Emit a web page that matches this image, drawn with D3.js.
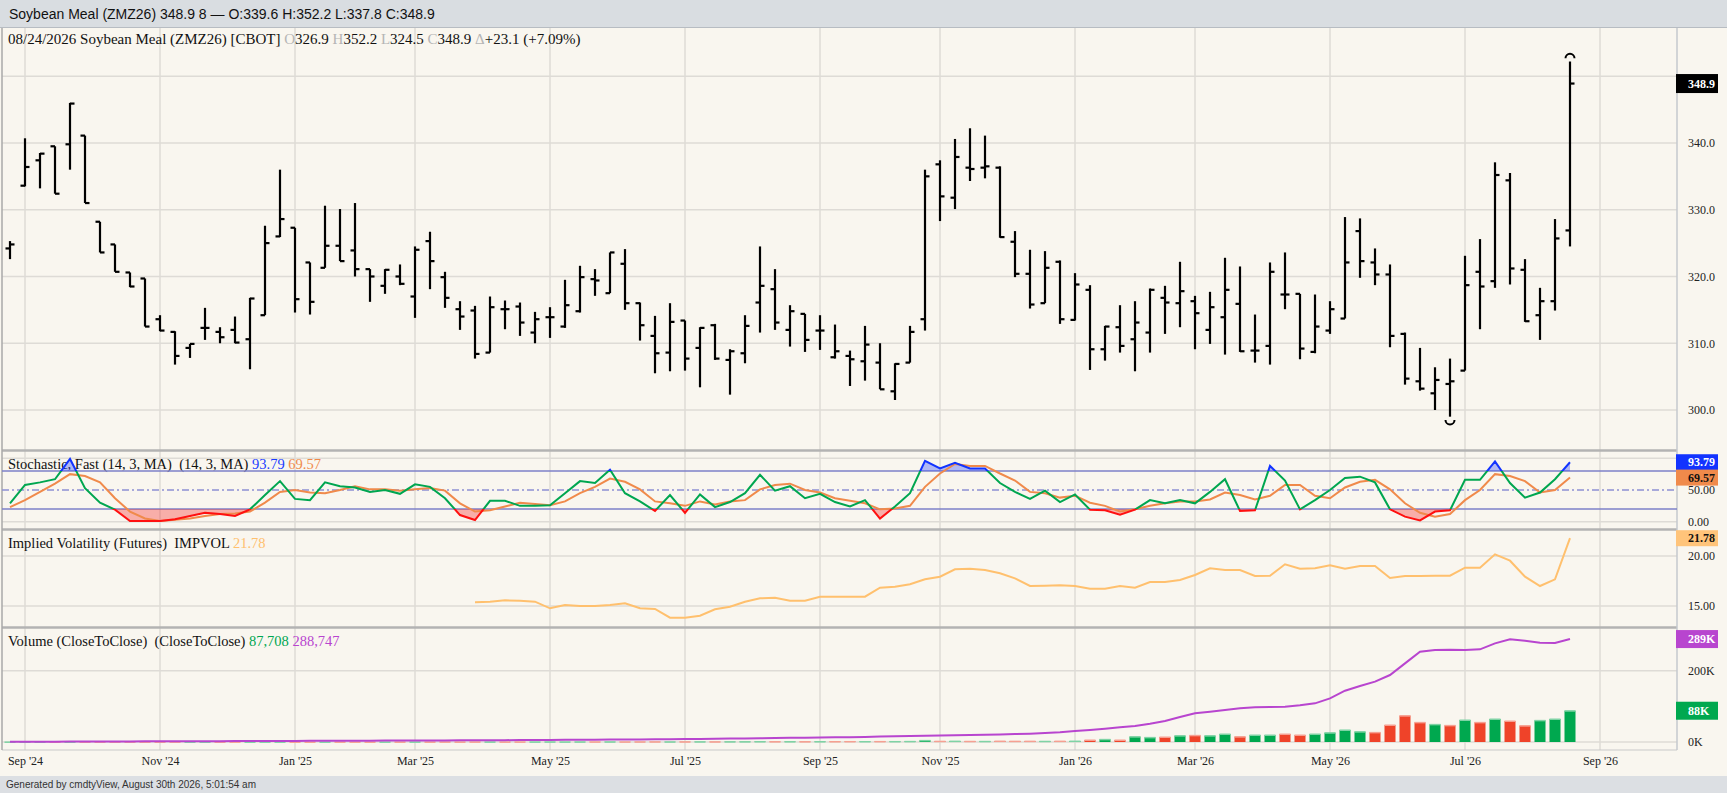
<!DOCTYPE html>
<html>
<head>
<meta charset="utf-8">
<script src="https://cdn.jsdelivr.net/npm/d3@7"></script>
<style>
  body { margin: 0; background: #f9f6ef; }
  svg { display: block; }
  text { font-family: "Liberation Serif", "Times New Roman", serif; }
</style>
</head>
<body>
<svg id="chart"></svg>
<script>
// weekly bars, first one is the week of 08/26/2024, last one 08/24/2026
var opens = [
  324.2, 333.6, 337.4, 339.5, 339.8, 341.1, 328.2, 324.8, 320.6, 319.7,
  313.6, 311.7, 309.3, 312.3, 311.7, 312.0, 310.6, 314.2, 326.0, 327.3,
  322.1, 321.3, 324.6, 323.9, 321.1, 318.6, 320.0, 317.0, 325.3, 319.9,
  315.1, 314.9, 308.6, 315.1, 315.5, 311.6, 313.9, 312.5, 314.8, 319.6,
  317.5, 321.9, 316.0, 311.1, 308.6, 313.4, 309.3, 312.7, 307.5, 308.5,
  316.1, 318.1, 312.0, 314.4, 311.9, 307.9, 308.1, 307.3, 307.1, 302.8,
  307.1, 313.6, 336.8, 331.8, 336.3, 336.3, 336.3, 325.2, 320.4, 316.0,
  322.2, 313.5, 318.0, 309.1, 312.4, 310.6, 311.6, 316.8, 316.0, 316.3,
  312.0, 313.9, 315.9, 308.9, 309.6, 317.3, 317.4, 308.7, 311.9, 313.7,
  326.8, 322.1, 320.3, 311.4, 304.3, 302.5, 303.9, 305.9, 320.7, 319.3,
  334.4, 321.0, 314.2, 316.3, 326.9
];
var highs = [
  325.3, 340.7, 338.5, 339.5, 346.0, 341.1, 328.2, 324.8, 320.6, 319.7,
  314.2, 311.8, 309.9, 315.3, 312.4, 314.0, 316.8, 327.6, 336.0, 327.3,
  322.1, 330.6, 330.1, 331.0, 321.1, 321.1, 321.8, 324.5, 326.7, 320.7,
  316.3, 315.6, 317.0, 316.4, 316.1, 314.7, 315.4, 319.5, 321.6, 321.1,
  323.6, 324.1, 316.1, 314.1, 316.0, 313.4, 312.4, 312.9, 309.1, 314.2,
  324.5, 321.1, 315.7, 314.4, 314.2, 312.8, 308.9, 312.6, 310.0, 307.0,
  312.6, 336.0, 337.4, 340.6, 342.2, 341.1, 336.5, 326.8, 324.0, 323.8,
  322.4, 320.5, 318.7, 312.6, 315.7, 316.3, 318.2, 318.6, 322.2, 317.1,
  317.7, 322.8, 321.5, 314.3, 322.1, 323.6, 317.4, 317.3, 316.3, 328.9,
  328.7, 324.2, 321.8, 311.6, 309.3, 306.4, 307.7, 323.1, 325.6, 337.1,
  335.5, 322.6, 318.3, 328.6, 352.2
];
var lows = [
  322.6, 333.5, 333.2, 332.4, 336.0, 331.0, 323.6, 320.7, 318.4, 312.5,
  311.8, 306.8, 307.8, 310.5, 310.0, 310.0, 306.1, 314.2, 325.9, 314.6,
  314.3, 321.3, 322.3, 320.0, 316.2, 317.4, 318.7, 313.8, 318.1, 315.3,
  312.0, 307.7, 308.6, 312.1, 311.1, 310.0, 310.8, 312.3, 314.6, 317.1,
  317.5, 315.0, 310.4, 305.5, 305.8, 305.9, 303.4, 307.5, 302.3, 307.0,
  311.6, 312.0, 309.5, 308.7, 309.0, 307.7, 303.6, 304.4, 303.1, 301.5,
  307.1, 311.9, 328.3, 330.1, 334.3, 334.7, 325.8, 319.9, 315.2, 316.0,
  312.9, 313.4, 306.0, 307.4, 308.6, 305.8, 308.6, 311.4, 312.4, 309.1,
  309.9, 308.3, 308.7, 307.1, 306.8, 315.1, 307.6, 308.5, 311.4, 313.7,
  319.8, 318.7, 309.4, 303.8, 302.9, 300.0, 299.0, 305.9, 312.1, 318.3,
  318.8, 313.2, 310.5, 314.9, 324.5
];
var closes = [
  324.8, 336.4, 338.4, 332.4, 345.9, 331.0, 323.6, 320.7, 318.5, 312.5,
  311.9, 308.1, 309.9, 312.3, 310.9, 310.1, 316.7, 325.0, 328.6, 316.6,
  316.2, 324.6, 322.3, 321.1, 320.0, 321.0, 318.9, 324.0, 322.3, 316.8,
  314.0, 308.4, 315.4, 315.1, 313.1, 313.6, 313.9, 315.7, 319.9, 319.4,
  323.6, 316.0, 312.7, 308.5, 313.2, 307.7, 312.3, 307.7, 308.8, 312.6,
  318.6, 313.1, 314.8, 310.5, 311.9, 308.8, 307.6, 309.8, 303.1, 306.9,
  311.7, 335.0, 332.0, 337.9, 336.1, 336.5, 325.9, 320.4, 315.8, 321.3,
  313.6, 318.8, 309.1, 312.5, 309.6, 313.1, 318.0, 316.1, 317.8, 314.5,
  315.4, 318.0, 308.8, 308.9, 320.7, 317.3, 309.2, 312.5, 315.1, 322.1,
  322.3, 320.3, 311.1, 304.7, 303.2, 304.5, 304.3, 318.7, 318.5, 335.2,
  321.2, 313.3, 316.3, 325.7, 348.9
];

// Stochastic fast %K and %D
var stochK = [
  29, 58, 62, 67, 99, 53, 30, 19, 1, 1,
  1, 4, 9, 14, 12, 9, 19.5, 42, 64, 36,
  34, 62, 56, 54, 47, 50, 44, 59, 55, 37,
  10.5, 2.6, 33, 33, 25, 25, 26, 45, 64, 61,
  82, 45, 32, 17, 42, 14, 43, 23, 31, 45,
  74, 49, 56, 37, 44, 31, 24, 34, 5, 24,
  45, 96, 84, 93, 84, 84, 61, 47, 36, 49,
  31, 43, 19, 18, 11, 19, 34, 29, 34, 29,
  47, 67, 17, 18, 88, 65, 19.5, 34, 50, 69,
  71, 62, 19.5, 8, 2, 16, 18, 66, 66, 95,
  61, 38, 46, 67, 93.79
];
var stochD = [
  23, 34, 47, 60, 75, 72, 62, 37, 16, 5,
  1, 3, 5, 9, 12, 13, 16, 30, 47, 50,
  46, 45, 50, 56, 51, 51, 49, 51, 53, 49,
  29, 16, 18, 24, 30, 28, 26, 32, 45, 55,
  68, 63, 51, 32, 29, 25, 32, 27, 32, 34,
  51, 58, 60, 50, 46, 37, 33, 29, 19.5, 21,
  25, 55, 76, 91, 88, 88, 76, 65, 47, 45,
  38, 41, 30, 25, 16, 19.5, 25, 29, 32, 32,
  35, 46, 42, 35, 41, 58, 58, 41, 37, 54,
  63, 66, 51, 29, 14, 8, 12, 34, 50, 75,
  72, 64, 46, 50, 69.57
];

// Implied volatility, starts in the spring of 2025
var impVol = [
  null, null, null, null, null, null, null, null, null, null,
  null, null, null, null, null, null, null, null, null, null,
  null, null, null, null, null, null, null, null, null, null,
  null, 15.37, 15.43, 15.57, 15.53, 15.43, 14.77, 15.1, 15.0, 15.0,
  15.1, 15.27, 14.77, 14.7, 13.83, 13.83, 14.03, 14.67, 14.93, 15.43,
  15.77, 15.83, 15.53, 15.53, 15.93, 15.93, 15.93, 15.93, 16.83, 16.93,
  17.17, 17.67, 17.93, 18.67, 18.73, 18.6, 18.27, 17.77, 17.0, 17.03,
  17.07, 17.0, 16.73, 16.73, 17.0, 16.83, 17.4, 17.4, 17.6, 18.1,
  18.77, 18.6, 18.6, 18.0, 18.03, 19.17, 18.73, 18.77, 19.07, 18.73,
  19.0, 19.0, 17.8, 18.0, 18.0, 18.03, 18.03, 18.83, 18.83, 20.17,
  19.53, 17.93, 17.0, 17.67, 21.78
];

// volume and open interest, thousands
var volumeK = [
  0.1, 0.1, 0.1, 0.2, 0.1, 0.1, 0.1, 0.1, 0.2, 0.1,
  0.1, 0.2, 0.1, 0.1, 0.1, 0.2, 0.1, 0.2, 0.2, 0.1,
  0.1, 0.2, 0.2, 0.2, 0.1, 0.2, 0.2, 0.3, 0.2, 0.3,
  0.2, 0.3, 0.3, 0.2, 0.3, 0.3, 0.4, 0.3, 0.4, 0.4,
  0.5, 0.4, 0.5, 0.6, 0.5, 0.6, 0.7, 0.6, 0.8, 0.9,
  1.2, 1.0, 1.1, 1.0, 1.2, 1.3, 1.5, 1.4, 1.6, 1.5,
  1.8, 4.5, 2.2, 2.5, 2.0, 1.9, 2.6, 2.3, 2.4, 2.1,
  2.5, 2.6, 5.6, 7.5, 5.6, 15, 13, 14, 17.8, 18.7,
  17.8, 22.4, 15, 19.6, 19.6, 22.4, 19.6, 22.4, 26, 33.7,
  29, 27, 47.7, 73.9, 55.1, 49.5, 46.7, 61.7, 55.1, 64.5,
  58.9, 45.8, 60.7, 64.5, 87.708
];
var openIntK = [
  0.5, 0.6, 0.8, 0.9, 1.1, 1.2, 1.4, 1.5, 1.6, 1.8,
  1.9, 2.0, 2.1, 2.3, 2.4, 2.5, 2.7, 2.8, 3.0, 3.1,
  3.2, 3.3, 3.5, 3.6, 3.8, 3.9, 4.0, 4.2, 4.3, 4.5,
  4.6, 4.8, 5.0, 5.2, 5.4, 5.6, 5.8, 6.0, 6.3, 6.5,
  6.8, 7.0, 7.3, 7.6, 7.9, 8.2, 8.6, 9.0, 9.5, 10.0,
  10.6, 11.2, 11.7, 12.1, 12.6, 13.1, 13.6, 14.3, 15.1, 16.0,
  16.8, 17.5, 18.0, 18.8, 19.5, 20.4, 21.3, 22.3, 23.4, 25.0,
  27.2, 30.9, 34.0, 37.5, 41.1, 44.9, 51.0, 58.9, 70.0, 80.4,
  85.0, 90.0, 94.4, 97.2, 98.0, 99.1, 103.0, 108.4, 122.4, 143.9,
  157.0, 169.2, 187.9, 220.6, 253.3, 258.0, 258.5, 258.0, 259.9, 276.7,
  287.9, 284.2, 278.5, 277.5, 288.747
];

var monthStarts = ["2024-09-01", "2024-11-01", "2025-01-01", "2025-03-01", "2025-05-01", "2025-07-01",
  "2025-09-01", "2025-11-01", "2026-01-01", "2026-03-01", "2026-05-01", "2026-07-01", "2026-09-01"];
var monthLabels = ["Sep '24", "Nov '24", "Jan '25", "Mar '25", "May '25", "Jul '25",
  "Sep '25", "Nov '25", "Jan '26", "Mar '26", "May '26", "Jul '26", "Sep '26"];

// gridlines / labelled ticks (350 and 100 sit under the last-value boxes)
var priceGrid = [300, 310, 320, 330, 340, 350];
var priceLabels = [300, 310, 320, 330, 340];
var stochGrid = [0, 100];
var stochLabels = [0, 50];
var ivTicks = [15, 20];
var volTicks = [0, 200];

var W = 1727, H = 793;
var left = 2, right = 1677;
var mainTop = 28, mainBot = 450, stTop = 452, stBot = 529, ivTop = 531, ivBot = 627, vTop = 629, vBot = 750;

var weeks = d3.timeMonday.range(new Date(2024, 7, 26), new Date(2026, 7, 25));
var parseDay = d3.timeParse("%Y-%m-%d");
// gridlines sit on the first bar whose week starts inside the month
var tickDates = monthStarts.map(function(s) {
  return d3.timeDay.offset(d3.timeSunday.ceil(parseDay(s)), 1);
});

var x = d3.scaleTime().domain([weeks[0], weeks[weeks.length - 1]]).range([10, 1570]);
var yP = d3.scaleLinear().domain([300, 350]).range([410, 76.2]);
var yS = d3.scaleLinear().domain([0, 100]).range([521.7, 458.3]);
var yI = d3.scaleLinear().domain([15, 20]).range([606, 556]);
var yV = d3.scaleLinear().domain([0, 200]).range([742, 670.7]);

var svg = d3.select("#chart").attr("width", W).attr("height", H);
svg.append("rect").attr("width", W).attr("height", H).attr("fill", "#f9f6ef");

// title bar and footer
svg.append("rect").attr("width", W).attr("height", 27).attr("fill", "#d9dde1");
svg.append("line").attr("x1", 0).attr("x2", W).attr("y1", 27.5).attr("y2", 27.5).attr("stroke", "#b7bcc2");
svg.append("text").attr("x", 9).attr("y", 19)
  .style("font-family", "'Liberation Sans', Arial, sans-serif").style("font-size", "14px")
  .attr("fill", "#111").text("Soybean Meal (ZMZ26) 348.9 8 \u2014 O:339.6 H:352.2 L:337.8 C:348.9");
svg.append("rect").attr("y", 776).attr("width", W).attr("height", 17).attr("fill", "#dcdfe3");
svg.append("text").attr("x", 6).attr("y", 788)
  .style("font-family", "'Liberation Sans', Arial, sans-serif").style("font-size", "10px")
  .attr("fill", "#333").text("Generated by cmdtyView, August 30th 2026, 5:01:54 am");

// clip paths
var defs = svg.append("defs");
function clip(id, y0, y1) {
  defs.append("clipPath").attr("id", id).append("rect")
    .attr("x", left).attr("y", y0).attr("width", right - left).attr("height", y1 - y0);
}
clip("cMain", mainTop, mainBot);
clip("cSt", stTop, stBot);
clip("cStHi", stTop, yS(80));
clip("cStMid", yS(80), yS(20));
clip("cStLo", yS(20), stBot);
clip("cIv", ivTop, ivBot);
clip("cVol", vTop, vBot);

var grid = "#dedbd6";

// vertical gridlines
svg.append("g").selectAll("line").data(tickDates).join("line")
  .attr("x1", function(d) { return x(d); }).attr("x2", function(d) { return x(d); })
  .attr("y1", mainTop).attr("y2", vBot)
  .attr("stroke", grid).attr("stroke-width", 1.5);

// horizontal gridlines
function hgrid(scale, ticks) {
  svg.append("g").selectAll("line").data(ticks).join("line")
    .attr("x1", left).attr("x2", right)
    .attr("y1", function(d) { return scale(d); }).attr("y2", function(d) { return scale(d); })
    .attr("stroke", grid).attr("stroke-width", 1.5);
}
hgrid(yP, priceGrid);
hgrid(yS, stochGrid);
hgrid(yI, ivTicks);
hgrid(yV, volTicks);

// panel separators and frame
[mainBot, stBot, ivBot].forEach(function(y) {
  svg.append("line").attr("x1", left).attr("x2", right).attr("y1", y + 0.5).attr("y2", y + 0.5)
    .attr("stroke", "#b3b3b3").attr("stroke-width", 2.5);
});
svg.append("line").attr("x1", left).attr("x2", right).attr("y1", vBot).attr("y2", vBot).attr("stroke", "#c9c9c9");
svg.append("line").attr("x1", right).attr("x2", right).attr("y1", mainTop).attr("y2", vBot).attr("stroke", "#c5c9ce").attr("stroke-width", 1.5);
svg.append("line").attr("x1", left).attr("x2", left).attr("y1", mainTop).attr("y2", vBot).attr("stroke", "#a9a9a9").attr("stroke-width", 1.5);

// legends
function legend(y, size, parts) {
  var t = svg.append("text").attr("x", 8).attr("y", y).style("font-size", size + "px").style("white-space", "pre");
  parts.forEach(function(p) { t.append("tspan").attr("fill", p[1]).text(p[0]); });
}
legend(44, 15, [["08/24/2026 Soybean Meal (ZMZ26) [CBOT] ", "#111"], ["O", "#b5b5b5"], ["326.9 ", "#111"],
  ["H", "#b5b5b5"], ["352.2 ", "#111"], ["L", "#b5b5b5"], ["324.5 ", "#111"], ["C", "#b5b5b5"],
  ["348.9 ", "#111"], ["\u0394", "#b5b5b5"], ["+23.1 (+7.09%)", "#111"]]);
legend(469, 14.5, [["Stochastic, Fast (14, 3, MA)  (14, 3, MA) ", "#111"], ["93.79", "#1a3cff"], [" ", "#111"], ["69.57", "#f08a4b"]]);
legend(548, 14.5, [["Implied Volatility (Futures)  IMPVOL ", "#111"], ["21.78", "#ffc06e"]]);
legend(646, 14.5, [["Volume (CloseToClose)  (CloseToClose) ", "#111"], ["87,708", "#00a651"], [" ", "#111"], ["288,747", "#b845cf"]]);

// price bars
var gP = svg.append("g").attr("clip-path", "url(#cMain)");
var bars = weeks.map(function(d, i) { return { date: d, o: opens[i], h: highs[i], l: lows[i], c: closes[i] }; });
var bg = gP.selectAll("g.bar").data(bars).join("g").attr("class", "bar")
  .attr("stroke", "#000").attr("stroke-width", 2.2);
bg.append("line").attr("x1", function(d) { return x(d.date); }).attr("x2", function(d) { return x(d.date); })
  .attr("y1", function(d) { return yP(d.h); }).attr("y2", function(d) { return yP(d.l); });
bg.append("line").attr("x1", function(d) { return x(d.date) - 4.5; }).attr("x2", function(d) { return x(d.date); })
  .attr("y1", function(d) { return yP(d.o); }).attr("y2", function(d) { return yP(d.o); });
bg.append("line").attr("x1", function(d) { return x(d.date); }).attr("x2", function(d) { return x(d.date) + 4.5; })
  .attr("y1", function(d) { return yP(d.c); }).attr("y2", function(d) { return yP(d.c); });

var hiI = d3.maxIndex(highs), loI = d3.minIndex(lows);
var pHi = d3.path(); pHi.arc(x(weeks[hiI]), yP(highs[hiI]) - 3.2, 4.5, Math.PI, 2 * Math.PI);
var pLo = d3.path(); pLo.arc(x(weeks[loI]), yP(lows[loI]) + 3.2, 4.5, 0, Math.PI);
gP.append("path").attr("d", pHi.toString()).attr("fill", "none").attr("stroke", "#000").attr("stroke-width", 2);
gP.append("path").attr("d", pLo.toString()).attr("fill", "none").attr("stroke", "#000").attr("stroke-width", 2);

// stochastic
var gS = svg.append("g").attr("clip-path", "url(#cSt)");
gS.append("line").attr("x1", left).attr("x2", right).attr("y1", yS(80)).attr("y2", yS(80)).attr("stroke", "#7d80c9").attr("stroke-width", 1.5);
gS.append("line").attr("x1", left).attr("x2", right).attr("y1", yS(20)).attr("y2", yS(20)).attr("stroke", "#7d80c9").attr("stroke-width", 1.5);
gS.append("line").attr("x1", left).attr("x2", right).attr("y1", yS(50)).attr("y2", yS(50)).attr("stroke", "#8d90d4")
  .attr("stroke-width", 1.5).attr("stroke-dasharray", "7,3,2,3");
var xi = function(d, i) { return x(weeks[i]); };
var areaHi = d3.area().x(xi).y0(yS(80)).y1(function(d) { return yS(d); });
var areaLo = d3.area().x(xi).y0(yS(20)).y1(function(d) { return yS(d); });
gS.append("path").attr("d", areaHi(stochK)).attr("fill", "rgba(40,70,255,0.35)").attr("clip-path", "url(#cStHi)");
gS.append("path").attr("d", areaLo(stochK)).attr("fill", "rgba(245,40,40,0.35)").attr("clip-path", "url(#cStLo)");
var lineS = d3.line().x(xi).y(function(d) { return yS(d); });
gS.append("path").attr("d", lineS(stochD)).attr("fill", "none").attr("stroke", "#f08a4b").attr("stroke-width", 2);
[["cStHi", "#1233ff"], ["cStMid", "#00a650"], ["cStLo", "#ff1010"]].forEach(function(c) {
  gS.append("path").attr("d", lineS(stochK)).attr("fill", "none").attr("stroke", c[1])
    .attr("stroke-width", 2).attr("clip-path", "url(#" + c[0] + ")");
});

// implied volatility
var gI = svg.append("g").attr("clip-path", "url(#cIv)");
var lineI = d3.line().defined(function(d) { return d != null; }).x(xi).y(function(d) { return yI(d); });
gI.append("path").attr("d", lineI(impVol)).attr("fill", "none").attr("stroke", "#ffc06e").attr("stroke-width", 2);

// volume bars coloured close to close, open interest line
var gV = svg.append("g").attr("clip-path", "url(#cVol)");
var vols = weeks.map(function(d, i) {
  return { date: d, v: volumeK[i], up: i === 0 || closes[i] >= closes[i - 1] };
});
gV.selectAll("rect.v").data(vols).join("rect").attr("class", "v")
  .attr("x", function(d) { return x(d.date) - 5.5; }).attr("width", 11)
  .attr("y", function(d) { return yV(d.v); }).attr("height", function(d) { return yV(0) - yV(d.v); })
  .attr("fill", function(d) { return d.up ? "#00a84f" : "#ef4329"; });
gV.selectAll("rect.cap").data(vols).join("rect").attr("class", "cap")
  .attr("x", function(d) { return x(d.date) - 5.5; }).attr("width", 11)
  .attr("y", function(d) { return yV(d.v) - 0.5; }).attr("height", 1.5)
  .attr("fill", function(d) { return d.up ? "#7fd3a5" : "#f6a092"; });
var lineV = d3.line().x(xi).y(function(d) { return yV(d); });
gV.append("path").attr("d", lineV(openIntK)).attr("fill", "none").attr("stroke", "#b845cf").attr("stroke-width", 2);

// right axes
function axisR(scale, ticks, fmt) {
  var g = svg.append("g").attr("transform", "translate(" + right + ",0)")
    .call(d3.axisRight(scale).tickValues(ticks).tickFormat(fmt).tickSize(0).tickPadding(11));
  g.select(".domain").remove();
  g.selectAll("text").style("font-family", "'Liberation Serif', 'Times New Roman', serif")
    .style("font-size", "12px").attr("fill", "#222");
}
axisR(yP, priceLabels, d3.format(".1f"));
axisR(yS, stochLabels, d3.format(".2f"));
axisR(yI, ivTicks, d3.format(".2f"));
axisR(yV, volTicks, function(d) { return d + "K"; });

// x axis
var gx = svg.append("g").attr("transform", "translate(0," + vBot + ")")
  .call(d3.axisBottom(x).tickValues(tickDates).tickFormat(function(d, i) { return monthLabels[i]; }).tickSize(0).tickPadding(6));
gx.select(".domain").remove();
gx.selectAll("text").style("font-family", "'Liberation Serif', 'Times New Roman', serif")
  .style("font-size", "12px").attr("fill", "#222");

// last value boxes
function valueBox(y, h, label, bg, fg) {
  svg.append("rect").attr("x", right - 1).attr("y", y - h / 2).attr("width", 42).attr("height", h).attr("fill", bg);
  svg.append("text").attr("x", right + 11).attr("y", y).attr("dy", "0.35em")
    .style("font-size", "12px").style("font-weight", "bold").attr("fill", fg).text(label);
}
var n = weeks.length - 1;
valueBox(yP(closes[n]), 19, "348.9", "#000", "#fff");
valueBox(yS(stochK[n]), 16, "93.79", "#1233ff", "#fff");
valueBox(yS(stochD[n]), 16, "69.57", "#f08a4b", "#111");
valueBox(yI(impVol[n]), 16, "21.78", "#ffc47a", "#111");
valueBox(yV(openIntK[n]), 18, "289K", "#b845cf", "#fff");
valueBox(yV(volumeK[n]), 18, "88K", "#00a84f", "#fff");
</script>
</body>
</html>
